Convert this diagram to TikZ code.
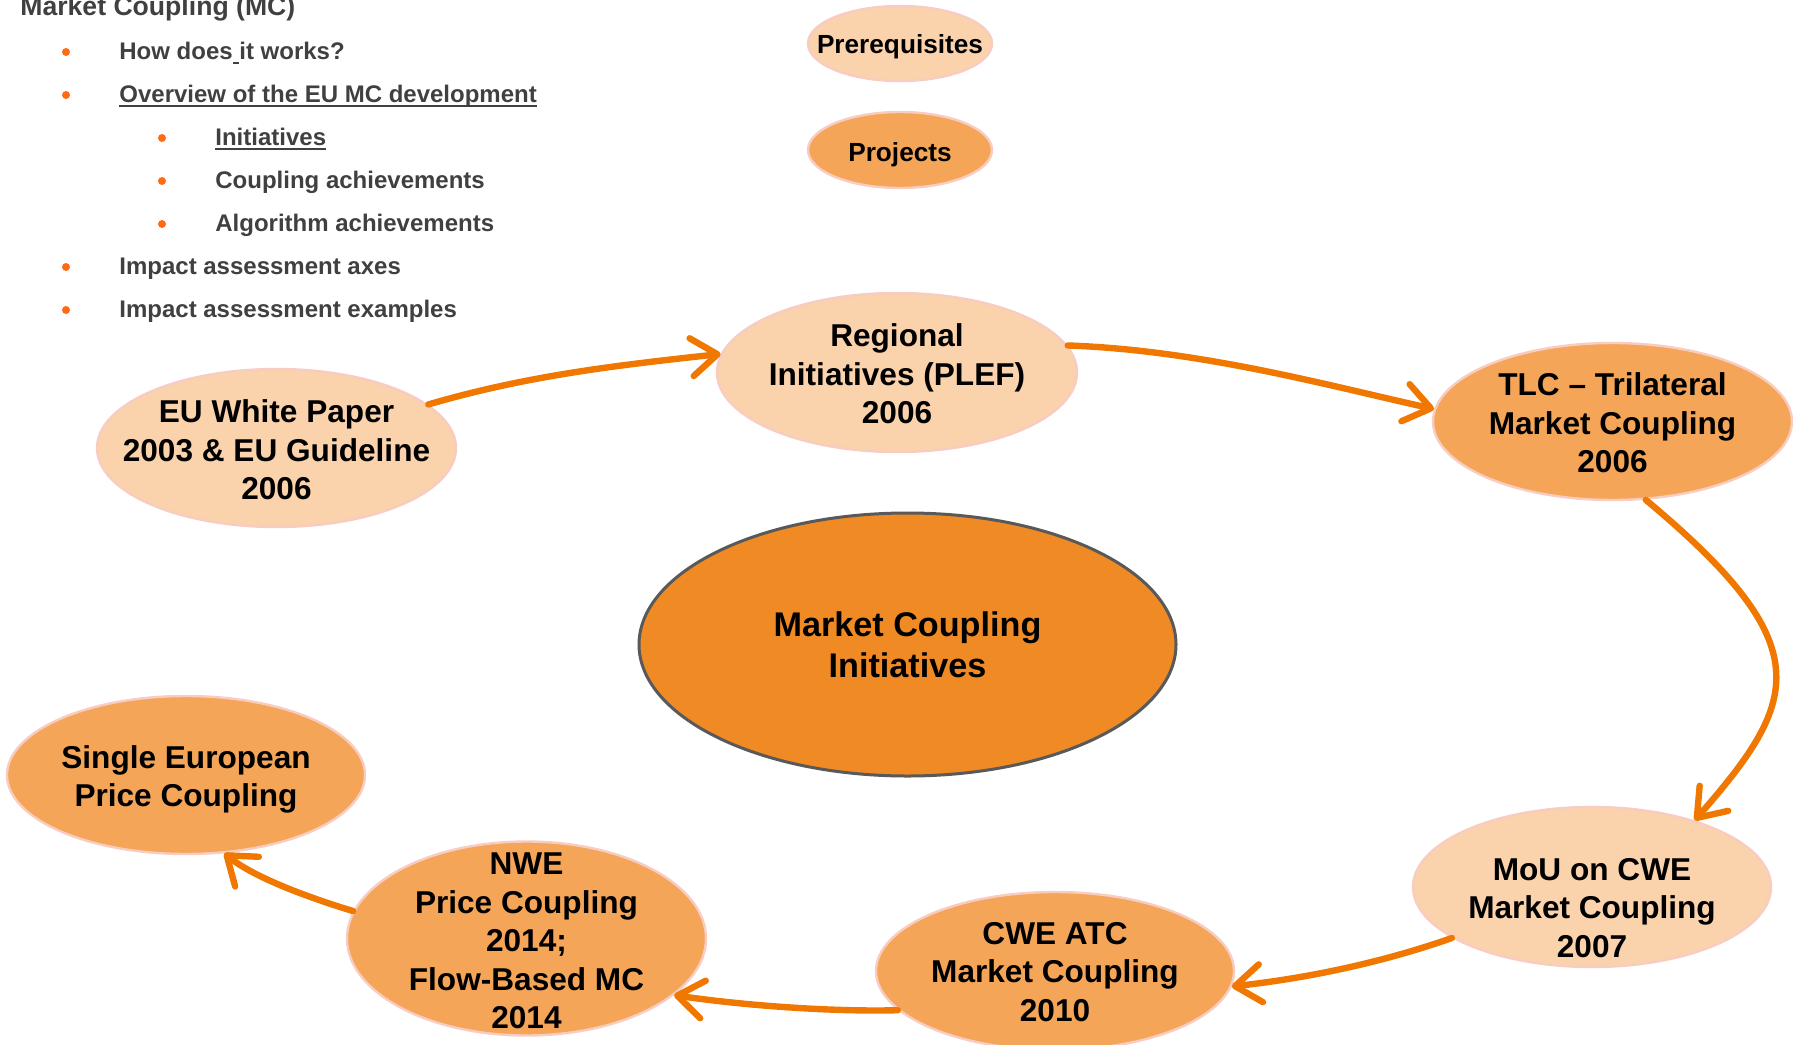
\documentclass[tikz,border=0pt]{standalone}
\usepackage{fontspec}
\setmainfont{Liberation Sans}
\usetikzlibrary{shapes.geometric,arrows.meta}

\definecolor{peach}{HTML}{FAD2AC}
\definecolor{apricot}{HTML}{F4A557}
\definecolor{core}{HTML}{F08A24}
\definecolor{corerim}{HTML}{595959}
\definecolor{rim}{HTML}{F8CCC0}
\definecolor{flow}{HTML}{F07800}
\definecolor{ink}{HTML}{404040}
\definecolor{dotorange}{HTML}{FF6A13}

% underlined word with a rule placed just under the baseline
\newcommand\ulbox[1]{\setbox0\hbox{#1}\rlap{\rule[-2.4pt]{\wd0}{0.9pt}}\box0}

\begin{document}
\begin{tikzpicture}[x=0.5pt,y=-0.5pt,
  stage/.style={ellipse, draw=rim, line width=1.2pt, inner sep=0pt},
  prereq/.style={stage, fill=peach},
  project/.style={stage, fill=apricot},
  caption/.style={inner sep=0pt, align=center, text=black,
    font=\bfseries\fontsize{15.8}{19.3}\selectfont},
  legendcap/.style={caption, font=\bfseries\fontsize{13.1}{15}\selectfont},
  flowarrow/.style={draw=flow, line width=3.2pt, line cap=round,
    -{Straight Barb[length=13pt,width=19pt,round]}},
  listitem/.style={anchor=base west, text=ink, inner sep=0pt,
    font=\bfseries\fontsize{12}{14}\selectfont},
  bulletdot/.style={circle, fill=dotorange, inner sep=0pt, minimum size=4pt},
]
\useasboundingbox (0,0) rectangle (1793,1044);

% outline list
\node[listitem, font=\bfseries\fontsize{13.3}{15}\selectfont] (title) at (20,15) {Market Coupling (MC)};
\node[listitem] (l1) at (119,59)  {How does\ulbox{\ }it works?};
\node[listitem] (l2) at (119,102) {\ulbox{Overview of the EU MC development}};
\node[listitem] (l3) at (215,145) {\ulbox{Initiatives}};
\node[listitem] (l4) at (215,188) {Coupling achievements};
\node[listitem] (l5) at (215,231) {Algorithm achievements};
\node[listitem] (l6) at (119,274) {Impact assessment axes};
\node[listitem] (l7) at (119,317) {Impact assessment examples};
\node[bulletdot] (d1) at (66,52)  {};
\node[bulletdot] (d2) at (66,95)  {};
\node[bulletdot] (d3) at (162,138) {};
\node[bulletdot] (d4) at (162,181) {};
\node[bulletdot] (d5) at (162,224) {};
\node[bulletdot] (d6) at (66,267) {};
\node[bulletdot] (d7) at (66,310) {};

% legend
\node[prereq, minimum width=92pt, minimum height=37.5pt] (legpre) at (900,43.5) {};
\node[legendcap] (legpre-t) at (900,47) {Prerequisites};
\node[project, minimum width=92pt, minimum height=38pt] (legproj) at (900,150) {};
\node[legendcap] (legproj-t) at (900,154.5) {Projects};

% centre
\node[ellipse, fill=core, draw=corerim, line width=1.5pt, inner sep=0pt,
  minimum width=268.5pt, minimum height=131.5pt] (mci) at (907.5,644.5) {};
\node[caption, font=\bfseries\fontsize{17.1}{20.5}\selectfont] (mci-t) at (mci.center)
  {Market Coupling\\Initiatives};

% stages of the cycle
\node[prereq, minimum width=179.5pt, minimum height=79pt] (eu) at (276.5,448) {};
\node[caption] (eu-t) at (276.5,450) {EU White Paper\\2003 \& EU Guideline\\2006};

\node[prereq, minimum width=180pt, minimum height=79.5pt] (reg) at (897,372.5) {};
\node[caption] (reg-t) at (897,374) {Regional\\Initiatives (PLEF)\\2006};

\node[project, minimum width=179.5pt, minimum height=78.5pt] (tlc) at (1612.5,421.5) {};
\node[caption] (tlc-t) at (1612.5,423) {TLC – Trilateral\\Market Coupling\\2006};

\node[prereq, minimum width=179pt, minimum height=80pt] (mou) at (1592,887) {};
\node[caption] (mou-t) at (1592,908) {MoU on CWE\\Market Coupling\\2007};

\node[project, minimum width=179pt, minimum height=79pt] (cwe) at (1055,971) {};
\node[caption] (cwe-t) at (1055,972) {CWE ATC\\Market Coupling\\2010};

\node[project, minimum width=179.5pt, minimum height=97pt] (nwe) at (526.5,938.5) {};
\node[caption] (nwe-t) at (526.5,941) {NWE\\Price Coupling\\2014;\\Flow-Based MC\\2014};

\node[project, minimum width=179pt, minimum height=79pt] (sepc) at (186,775) {};
\node[caption] (sepc-t) at (186,779.5) {Single European\\Price Coupling};

% timeline arrows
\draw[flowarrow] (eu.16) .. controls (529,375) and (620,365) .. (reg.174);
\draw[flowarrow] (reg.9) .. controls (1200,350) and (1330,386) .. (tlc.176);
\draw[flowarrow] (tlc.-67) .. controls (1821,646) and (1800,700) .. (mou.33);
\draw[flowarrow] (mou.200) .. controls (1389,960) and (1317,977) .. (cwe.-5);
\draw[flowarrow] (cwe.194) .. controls (830,1012) and (740,1005) .. (nwe.-21);
\draw[flowarrow] (nwe.171) .. controls (310,898) and (255,878) .. (sepc.-64);
\end{tikzpicture}
\end{document}
